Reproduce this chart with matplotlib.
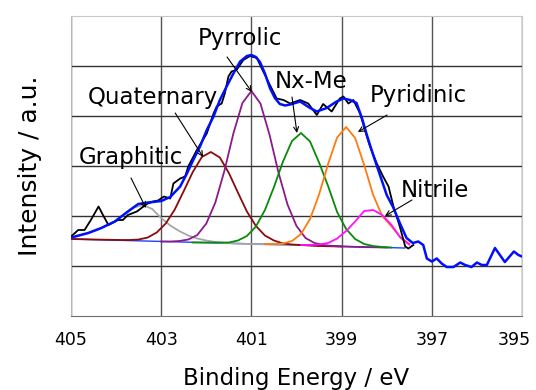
import matplotlib
matplotlib.use('Agg')
import matplotlib.pyplot as plt
import matplotlib.transforms as mtransforms

# N1s 스펙트럼 (측정값, 검정)
spec_x = [405.00, 404.84, 404.70, 404.56, 404.39, 404.28, 404.17, 403.96, 403.85, 403.74,
          403.54, 403.32, 403.18, 403.07, 402.94, 402.80, 402.73, 402.58, 402.47, 402.40,
          402.21, 401.99, 401.84, 401.77, 401.66, 401.59, 401.51, 401.44, 401.33, 401.18,
          401.03, 400.88, 400.77, 400.59, 400.44, 400.29, 400.14, 399.92, 399.74, 399.55,
          399.41, 399.22, 399.04, 398.96, 398.85, 398.74, 398.59, 398.44, 398.37, 398.22,
          398.08, 397.96, 397.85, 397.71, 397.59, 397.52, 397.41]
spec_y = [1.59, 1.72, 1.72, 1.92, 2.19, 2.00, 1.82, 1.92, 1.92, 2.02,
          2.09, 2.24, 2.29, 2.31, 2.39, 2.35, 2.65, 2.75, 2.79, 2.99,
          3.32, 3.65, 4.05, 4.19, 4.25, 4.45, 4.79, 4.89, 4.92, 5.12,
          5.20, 5.16, 4.95, 4.62, 4.35, 4.32, 4.25, 4.32, 4.25, 4.02,
          4.24, 4.09, 4.35, 4.39, 4.25, 4.32, 4.05, 3.59, 3.39, 3.05,
          2.79, 2.59, 2.19, 1.79, 1.39, 1.35, 1.42]

# 피팅 합 (파랑)
env_x = [405.00, 404.62, 404.33, 404.03, 403.74, 403.51, 403.29, 403.00, 402.80, 402.58,
         402.43, 402.29, 402.14, 401.99, 401.84, 401.70, 401.55, 401.40, 401.25, 401.10,
         401.00, 400.90, 400.81, 400.70, 400.59, 400.48, 400.37, 400.25, 400.14, 399.92,
         399.70, 399.55, 399.33, 399.11, 398.96, 398.81, 398.67, 398.55, 398.44, 398.30,
         398.15, 398.00, 397.86, 397.71, 397.56, 397.42, 397.30, 397.19, 397.11, 397.00,
         396.89, 396.78, 396.67, 396.52, 396.37, 396.26, 396.12, 396.00, 395.89, 395.78,
         395.60, 395.49, 395.38, 395.18, 395.08, 395.00]
env_y = [1.57, 1.66, 1.76, 1.89, 2.09, 2.24, 2.27, 2.30, 2.38, 2.59,
         2.85, 3.12, 3.39, 3.72, 3.99, 4.32, 4.59, 4.85, 5.09, 5.20,
         5.22, 5.18, 5.08, 4.85, 4.56, 4.36, 4.24, 4.21, 4.23, 4.29,
         4.16, 4.09, 4.16, 4.29, 4.35, 4.32, 4.26, 3.96, 3.62, 3.22,
         2.82, 2.42, 2.18, 1.86, 1.56, 1.46, 1.49, 1.42, 1.15, 1.09,
         1.15, 1.05, 0.98, 0.98, 1.07, 1.02, 0.98, 1.07, 1.02, 1.02,
         1.36, 1.22, 1.08, 1.29, 1.22, 1.19]

# 배경선
bg_x = [405.0, 397.6]
bg_y = [1.54, 1.36]

# 성분 피크들
gra_x = [405.0, 404.8, 404.6, 404.4, 404.2, 404.0, 403.8, 403.6, 403.4, 403.2, 403.0,
         402.8, 402.6, 402.4, 402.2, 402.0, 401.8, 401.6, 401.4, 401.0, 400.6, 400.0]
gra_y = [1.56, 1.61, 1.66, 1.73, 1.81, 1.90, 2.04, 2.17, 2.22, 2.14, 1.96,
         1.81, 1.70, 1.61, 1.55, 1.51, 1.48, 1.46, 1.45, 1.44, 1.43, 1.42]

qua_x = [405.0, 404.5, 403.9, 403.7, 403.5, 403.3, 403.1, 402.9, 402.7, 402.5, 402.3,
         402.1, 401.9, 401.7, 401.5, 401.3, 401.1, 400.9, 400.7, 400.5, 400.3, 400.1,
         399.9, 399.5, 399.0]
qua_y = [1.54, 1.53, 1.52, 1.52, 1.53, 1.57, 1.67, 1.85, 2.13, 2.50, 2.88,
         3.18, 3.28, 3.17, 2.86, 2.47, 2.09, 1.80, 1.61, 1.51, 1.45, 1.43,
         1.42, 1.40, 1.39]

pyr_x = [403.0, 402.8, 402.6, 402.4, 402.2, 402.0, 401.8, 401.6, 401.4, 401.2, 401.0,
         400.8, 400.6, 400.4, 400.2, 400.0, 399.8, 399.6, 399.4, 399.2, 399.0, 398.6, 398.0]
pyr_y = [1.49, 1.49, 1.50, 1.53, 1.62, 1.85, 2.27, 2.90, 3.65, 4.26, 4.50,
         4.25, 3.63, 2.87, 2.23, 1.80, 1.56, 1.46, 1.42, 1.40, 1.39, 1.38, 1.37]

nxm_x = [402.3, 401.9, 401.7, 401.5, 401.3, 401.1, 400.9, 400.7, 400.5, 400.3, 400.1,
         399.9, 399.7, 399.5, 399.3, 399.1, 398.9, 398.7, 398.5, 398.3, 398.1, 397.9]
nxm_y = [1.47, 1.47, 1.47, 1.47, 1.51, 1.60, 1.79, 2.12, 2.58, 3.09, 3.50,
         3.66, 3.49, 3.07, 2.60, 2.08, 1.74, 1.54, 1.44, 1.40, 1.38, 1.37]

pdn_x = [400.7, 400.5, 400.3, 400.1, 399.9, 399.7, 399.5, 399.3, 399.1, 398.9,
         398.7, 398.5, 398.3, 398.1, 397.9, 397.7, 397.5]
pdn_y = [1.44, 1.44, 1.45, 1.50, 1.64, 1.94, 2.43, 3.04, 3.57, 3.78,
         3.56, 3.02, 2.42, 2.00, 1.80, 1.58, 1.44]

nit_x = [399.9, 399.7, 399.5, 399.3, 399.1, 398.9, 398.7, 398.5, 398.3, 398.1,
         397.9, 397.7, 397.5]
nit_y = [1.42, 1.42, 1.43, 1.46, 1.55, 1.70, 1.89, 2.10, 2.12, 2.02,
         1.83, 1.57, 1.43]

# 라벨: (텍스트, 텍스트 위치, 화살표 시작, 화살표 끝)
labels = [
    ('Graphitic',  (403.68, 3.17), (403.67, 2.76), (403.34, 2.16)),
    ('Quaternary', (403.19, 4.37), (402.69, 4.06), (402.07, 3.18)),
    ('Pyrrolic',   (401.25, 5.54), (401.54, 5.18), (400.99, 4.48)),
    ('Nx-Me',      (399.67, 4.68), (400.10, 4.38), (399.99, 3.66)),
    ('Pyridinic',  (397.30, 4.40), (397.99, 4.02), (398.64, 3.68)),
    ('Nitrile',    (396.93, 2.52), (397.44, 2.32), (398.04, 2.00)),
]

fig = plt.figure(figsize=(5.36, 3.9), dpi=100)
ax = fig.add_axes([0.1325, 0.1897, 0.8414, 0.7693])

ax.plot(bg_x, bg_y, color='#2040ff', lw=1.0, zorder=2)
ax.plot(gra_x, gra_y, color='#a6a6a6', lw=1.3, zorder=3)
ax.plot(qua_x, qua_y, color='#8b0a0a', lw=1.3, zorder=3)
ax.plot(pyr_x, pyr_y, color='#8b1a8b', lw=1.3, zorder=3)
ax.plot(nxm_x, nxm_y, color='#0a8a0a', lw=1.3, zorder=3)
ax.plot(pdn_x, pdn_y, color='#ff7a10', lw=1.3, zorder=3)
ax.plot(nit_x, nit_y, color='#ff10ff', lw=1.3, zorder=3)
ax.plot(spec_x, spec_y, color='black', lw=1.3, zorder=4)
ax.plot(env_x, env_y, color='#0010ff', lw=1.8, zorder=5)

for txt, tpos, a0, a1 in labels:
    ax.text(tpos[0], tpos[1], txt, fontsize=16.5, ha='center', va='center', zorder=6)
    ax.annotate('', xy=a1, xytext=a0,
                arrowprops=dict(arrowstyle='->', color='black', lw=0.8,
                                shrinkA=0, shrinkB=0, mutation_scale=9), zorder=6)

ax.set_xlim(405, 395)
ax.set_ylim(0, 6)
ax.set_xticks([405, 403, 401, 399, 397, 395])
ax.set_yticks([1, 2, 3, 4, 5])
ax.set_yticklabels([])
ax.tick_params(length=0, labelsize=12.5, pad=11)
ax.xaxis.grid(True, color='#555555', lw=1.0)
ax.yaxis.grid(True, color='#333333', lw=1.0)
ax.set_axisbelow(True)

# 마지막 눈금 라벨은 그림 안쪽으로 조금 이동
last = ax.get_xticklabels()[-1]
last.set_transform(last.get_transform() +
                   mtransforms.ScaledTranslation(-8 / 100, 0, fig.dpi_scale_trans))

ax.spines['bottom'].set_color('#707070')
ax.spines['left'].set_color('#b8b8b8')
ax.spines['top'].set_color('#c8c8c8')
ax.spines['right'].set_color('#c8c8c8')

ax.set_xlabel('Binding Energy / eV', fontsize=16.5, labelpad=13)
ax.set_ylabel('Intensity / a.u.', fontsize=18, labelpad=10)

fig.savefig('out.png', dpi=100)
